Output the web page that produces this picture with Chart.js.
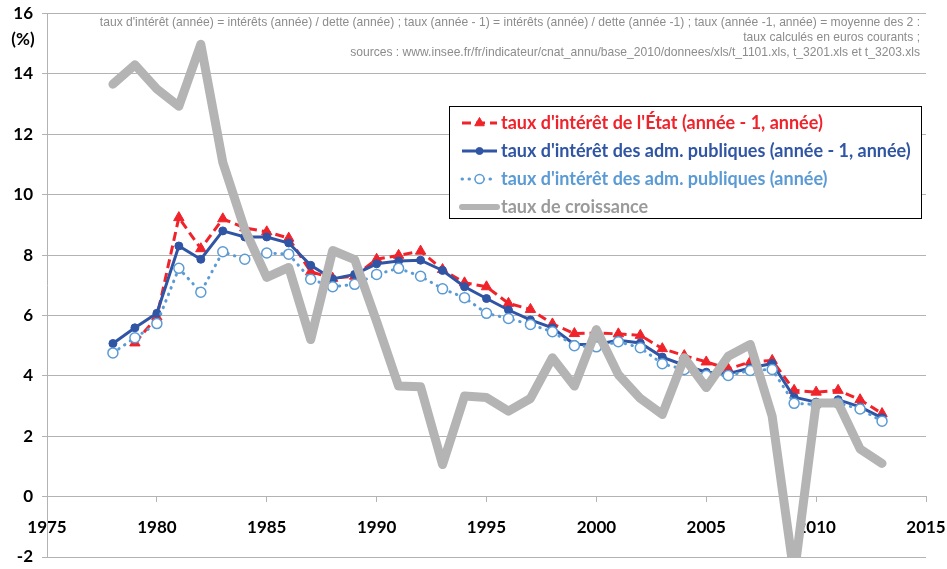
<!DOCTYPE html>
<html>
<head>
<meta charset="utf-8">
<script src="https://cdn.jsdelivr.net/npm/chart.js@4.4.0/dist/chart.umd.min.js"></script>
<style>
  html, body { margin: 0; padding: 0; background: #fff; }
  #cadre { width: 947px; height: 569px; }
</style>
</head>
<body>
<div id="cadre"><canvas id="graphique"></canvas></div>
<script>
// années 1978 - 2013
const annees = [1978, 1979, 1980, 1981, 1982, 1983, 1984, 1985, 1986, 1987, 1988, 1989,
  1990, 1991, 1992, 1993, 1994, 1995, 1996, 1997, 1998, 1999, 2000, 2001,
  2002, 2003, 2004, 2005, 2006, 2007, 2008, 2009, 2010, 2011, 2012, 2013];

const tauxEtat = [null, 5.09, 5.95, 9.24, 8.21, 9.2, 8.9, 8.77, 8.56, 7.45, 7.23, 7.3,
  7.86, 7.99, 8.13, 7.52, 7.08, 6.95, 6.4, 6.2, 5.72, 5.4, 5.42, 5.39,
  5.34, 4.9, 4.67, 4.46, 4.23, 4.46, 4.51, 3.52, 3.46, 3.52, 3.21, 2.75];

const tauxApuMoy = [5.07, 5.59, 6.07, 8.3, 7.86, 8.8, 8.6, 8.6, 8.4, 7.66, 7.21, 7.36,
  7.71, 7.8, 7.83, 7.49, 6.95, 6.56, 6.18, 5.85, 5.59, 5.04, 5.04, 5.18,
  5.09, 4.62, 4.35, 4.12, 4.07, 4.26, 4.41, 3.29, 3.13, 3.21, 2.97, 2.61];

const tauxApuAnnee = [4.76, 5.26, 5.73, 7.56, 6.77, 8.11, 7.86, 8.07, 8.03, 7.2, 6.95, 7.03,
  7.36, 7.56, 7.3, 6.88, 6.59, 6.07, 5.9, 5.7, 5.46, 5.0, 4.96, 5.13,
  4.93, 4.4, 4.21, 4.01, 4.01, 4.18, 4.21, 3.09, 3.05, 3.1, 2.9, 2.5];

const croissance = [13.66, 14.3, 13.5, 12.93, 14.98, 11.07, 8.85, 7.26, 7.59, 5.2, 8.15, 7.85,
  5.8, 3.66, 3.64, 1.06, 3.33, 3.28, 2.83, 3.25, 4.6, 3.66, 5.53, 4.04,
  3.25, 2.72, 4.6, 3.61, 4.65, 5.04, 2.66, -2.6, 3.1, 3.1, 1.58, 1.1];

const libelles = [
  "taux d'intérêt de l'État (année - 1, année)",
  "taux d'intérêt des adm. publiques (année - 1, année)",
  "taux d'intérêt des adm. publiques (année)",
  "taux de croissance"
];

const notes = [
  "taux d'intérêt (année) = intérêts (année) / dette (année) ; taux (année - 1) = intérêts (année) / dette (année -1) ; taux (année -1, année) = moyenne des 2 :",
  "taux calculés en euros courants ;",
  "sources : www.insee.fr/fr/indicateur/cnat_annu/base_2010/donnees/xls/t_1101.xls, t_3201.xls et t_3203.xls"
];

const ROUGE = '#f0232b';
const BLEU = '#2f55a4';
const BLEU_CLAIR = '#5b9bd5';
const GRIS = '#b4b4b4';
const GRILLE = '#b3b3b3';
const policeAxe = { family: 'Lato', weight: 'bold', size: 17 };

function points(valeurs) {
  return annees.map((a, i) => ({ x: a, y: valeurs[i] }));
}

// légende + notes dessinées à la main (position libre dans le graphe)
const decor = {
  id: 'decor',
  afterDraw(chart) {
    const ctx = chart.ctx;
    ctx.save();

    ctx.font = '12.1px "Liberation Sans", Arial, sans-serif';
    ctx.fillStyle = '#8c8c8c';
    ctx.textAlign = 'right';
    ctx.textBaseline = 'middle';
    notes.forEach((t, i) => ctx.fillText(t, 920, 23 + i * 15));

    ctx.font = 'bold 17px Lato';
    ctx.fillStyle = '#000';
    ctx.textAlign = 'center';
    ctx.fillText('(%)', 23, 40);

    ctx.fillStyle = '#fff';
    ctx.fillRect(449.5, 106.5, 472, 112);
    ctx.strokeStyle = '#000';
    ctx.lineWidth = 1;
    ctx.strokeRect(449.5, 106.5, 472, 112);

    const couleursTexte = [ROUGE, BLEU, BLEU_CLAIR, '#9a9a9a'];
    chart.data.datasets.forEach((ds, i) => {
      const y = 123 + i * 28;
      ctx.save();
      ctx.strokeStyle = ds.borderColor;
      ctx.lineWidth = i === 3 ? 6 : ds.borderWidth;
      ctx.lineCap = ds.borderCapStyle || 'butt';
      ctx.setLineDash(ds.borderDash || []);
      ctx.beginPath();
      ctx.moveTo(462, y);
      ctx.lineTo(497, y);
      ctx.stroke();
      ctx.restore();
      if (ds.pointRadius > 0) {
        ctx.save();
        ctx.fillStyle = ds.pointBackgroundColor;
        ctx.strokeStyle = ds.pointBorderColor;
        ctx.lineWidth = ds.pointBorderWidth;
        Chart.helpers.drawPoint(ctx, {
          pointStyle: ds.pointStyle, radius: ds.pointRadius - 0.5,
          borderWidth: ds.pointBorderWidth, rotation: 0
        }, 479.5, y);
        ctx.restore();
      }
      ctx.font = 'bold 18px Lato';
      ctx.fillStyle = couleursTexte[i];
      ctx.textAlign = 'left';
      ctx.textBaseline = 'middle';
      ctx.fillText(ds.label, 501, y);
    });
    ctx.restore();
  }
};

new Chart(document.getElementById('graphique'), {
  type: 'line',
  data: {
    datasets: [
      {
        label: libelles[0], data: points(tauxEtat), order: 4,
        borderColor: ROUGE, borderWidth: 3, borderDash: [9, 5],
        pointStyle: 'triangle', pointRadius: 6,
        pointBackgroundColor: ROUGE, pointBorderColor: ROUGE, pointBorderWidth: 1
      },
      {
        label: libelles[1], data: points(tauxApuMoy), order: 3,
        borderColor: BLEU, borderWidth: 3,
        pointStyle: 'circle', pointRadius: 4,
        pointBackgroundColor: BLEU, pointBorderColor: BLEU, pointBorderWidth: 1
      },
      {
        label: libelles[2], data: points(tauxApuAnnee), order: 2,
        borderColor: BLEU_CLAIR, borderWidth: 3, borderDash: [0.5, 6.5], borderCapStyle: 'round',
        pointStyle: 'circle', pointRadius: 5,
        pointBackgroundColor: '#fff', pointBorderColor: BLEU_CLAIR, pointBorderWidth: 1.5
      },
      {
        label: libelles[3], data: points(croissance), order: 1,
        borderColor: GRIS, borderWidth: 9, borderJoinStyle: 'round', borderCapStyle: 'round',
        pointRadius: 0, clip: 0
      }
    ]
  },
  options: {
    responsive: true,
    maintainAspectRatio: false,
    animation: false,
    events: [],
    layout: { padding: { left: 0, right: 21, top: 13.5, bottom: 12 } },
    elements: { line: { tension: 0 } },
    plugins: { legend: { display: false }, tooltip: { enabled: false } },
    scales: {
      x: {
        type: 'linear', min: 1975, max: 2015,
        position: { y: 0 },
        ticks: { stepSize: 5, callback: v => String(v), font: policeAxe, color: '#000', padding: 16, maxRotation: 0 },
        grid: { drawOnChartArea: false, drawTicks: true, tickLength: 5, color: GRILLE },
        border: { color: GRILLE },
        afterFit: s => {
          s.height = 0;
          s.paddingTop = 0; s.paddingBottom = 0;
          s.paddingLeft = 0; s.paddingRight = 0;
        }
      },
      y: {
        min: -2, max: 16,
        ticks: { stepSize: 2, font: policeAxe, color: '#000', padding: 9 },
        grid: { color: GRILLE, tickLength: 5 },
        border: { color: GRILLE },
        afterFit: s => { s.width = 47; s.paddingTop = 0; s.paddingBottom = 0; }
      }
    }
  },
  plugins: [decor]
});
</script>
</body>
</html>
